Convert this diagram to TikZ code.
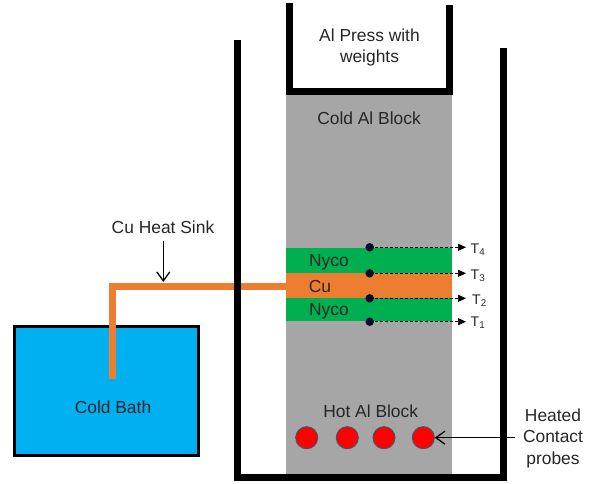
\documentclass[tikz,border=0pt]{standalone}
\usepackage{fontspec}
\setmainfont{Liberation Sans}
\usetikzlibrary{arrows.meta}
\definecolor{nycogreen}{HTML}{00B050}
\definecolor{cuorange}{HTML}{ED7D31}
\definecolor{bathblue}{HTML}{00B0F0}
\definecolor{blockgray}{HTML}{A6A6A6}
\definecolor{txt}{HTML}{262626}
\definecolor{dotnavy}{HTML}{0A0A2A}
\definecolor{probeedge}{HTML}{44546A}
\tikzset{
  x=1pt,y=-1pt,
  lbl/.style={font=\fontsize{17.4}{21.5}\selectfont,text=txt,inner sep=0pt,align=center},
  tlbl/.style={font=\fontsize{14}{16}\selectfont,text=txt,inner sep=0pt,anchor=west},
  wall/.style={draw=black,line width=7.4pt,line cap=butt,line join=miter},
  probe/.style={circle,fill=red,draw=probeedge,line width=1pt,minimum size=22pt,inner sep=0pt},
  sensor/.style={circle,fill=dotnavy,minimum size=8.5pt,inner sep=0pt},
  lead/.style={densely dashed,line width=0.7pt,black},
  leadtip/.style={-{Triangle[length=8pt,width=7pt]},line width=0.7pt,black},
  callout/.style={-{Straight Barb[length=9pt,width=13pt]},line width=1.3pt,black},
  sink/.style={draw=cuorange,line width=7pt,line join=miter}
}
\begin{document}
\begin{tikzpicture}
\useasboundingbox (0,0) rectangle (598,484);
% blocks
\fill[blockgray] (285.6,95) rectangle (452.2,474);
\fill[nycogreen] (285.6,247.7) rectangle (452.2,321.3);
\fill[cuorange] (285.6,273.3) rectangle (452.2,298.3);
% bath
\node[draw=black,line width=3pt,fill=bathblue,outer sep=0pt,minimum width=183.5pt,minimum height=128.5pt,inner sep=0pt,anchor=north west] (bath) at (14.8,326.6) {};
% heat sink
\coordinate (sinkend) at (112.5,379.3);
\coordinate (sinkcorner) at (112.5,286.8);
\coordinate (sinkjoin) at (287,286.8);
\coordinate (sinktop) at (163.3,282);
\coordinate (sinkstart) at (163.3,241);
\coordinate (heatstart) at (515,437.7);
\draw[sink] (sinkend) -- (sinkcorner) -- (sinkjoin);
% outer container
\draw[wall] (237.5,40) -- (237.5,477.7) -- (503.5,477.7) -- (503.5,48);
% press
\draw[wall] (289.7,3) -- (289.7,91.7) -- (449.7,91.7) -- (449.7,5.5);
% labels
\node[lbl] (press) at (369.5,47.3) {Al Press with\\weights};
\node[lbl] (cold) at (369,118) {Cold Al Block};
\node[lbl] (hot) at (370.7,411) {Hot Al Block};
\node[lbl] (nycoa) at (329,262.5) {Nyco};
\node[lbl] (cu) at (320,286.5) {Cu};
\node[lbl] (nycob) at (329,311.5) {Nyco};
\node[lbl] (bathlbl) at (113,407.5) {Cold Bath};
\node[lbl] (sinklbl) at (163,227) {Cu Heat Sink};
\node[lbl] (heated) at (553,438.5) {Heated\\Contact\\probes};
% heat sink callout
\draw[callout] (sinkstart) -- (sinktop);
% probes
\node[probe] (p1) at (306.7,437.7) {};
\node[probe] (p2) at (347.3,437.7) {};
\node[probe] (p3) at (384,437.7) {};
\node[probe] (p4) at (423.3,437.7) {};
\draw[callout] (heatstart) -- (p4);
% sensors
\node[sensor] (s4) at (369.7,247.3) {};
\node[sensor] (s3) at (369.7,273.3) {};
\node[sensor] (s2) at (369.7,298.3) {};
\node[sensor] (s1) at (369.7,321.7) {};
\node[tlbl] (t4) at (470.5,249.5) {T\textsubscript{4}};
\node[tlbl] (t3) at (470.5,275.5) {T\textsubscript{3}};
\node[tlbl] (t2) at (472,300.5) {T\textsubscript{2}};
\node[tlbl] (t1) at (470.5,323) {T\textsubscript{1}};
\foreach \n in {1,2,3,4}{
  \draw[lead] (s\n.center) -- (457,0 |- s\n.center);
  \draw[leadtip] (457,0 |- s\n.center) -- (466,0 |- s\n.center);
}
\end{tikzpicture}
\end{document}
